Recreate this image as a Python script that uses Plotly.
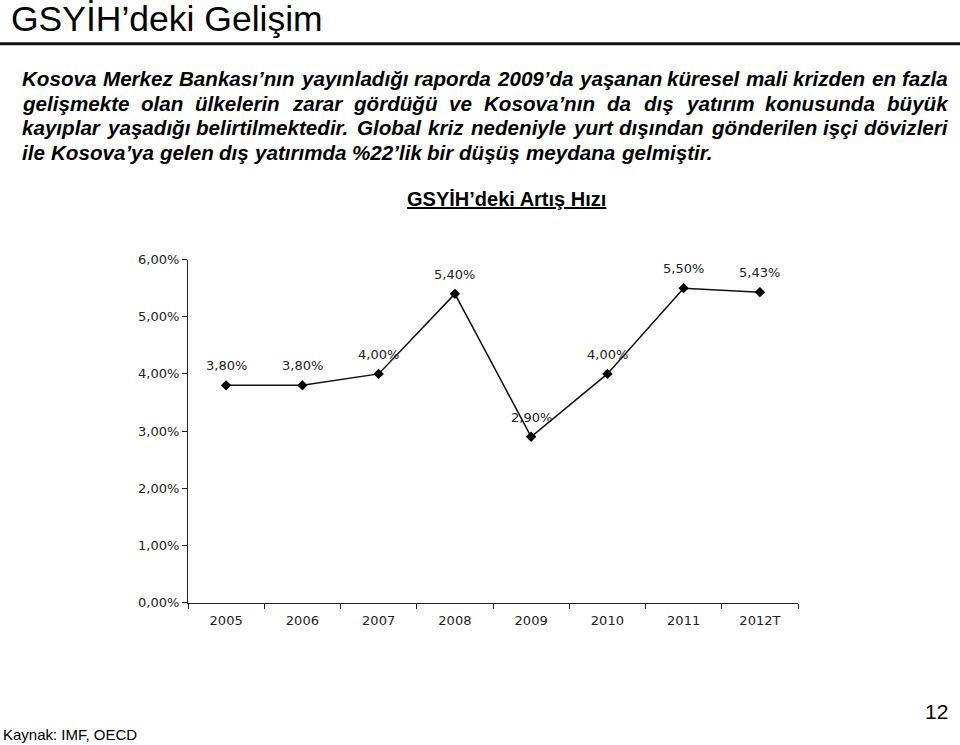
import plotly.graph_objects as go

years = ["2005", "2006", "2007", "2008", "2009", "2010", "2011", "2012T"]
growth = [3.80, 3.80, 4.00, 5.40, 2.90, 4.00, 5.50, 5.43]
labels = ["3,80%", "3,80%", "4,00%", "5,40%", "2,90%", "4,00%", "5,50%", "5,43%"]
ytick_vals = [0, 1, 2, 3, 4, 5, 6]
ytick_text = ["0,00%", "1,00%", "2,00%", "3,00%", "4,00%", "5,00%", "6,00%"]

paragraph_lines = [
    "Kosova Merkez Bankası’nın yayınladığı raporda 2009’da yaşanan küresel mali krizden en fazla",
    "gelişmekte olan ülkelerin zarar gördüğü ve Kosova’nın da dış yatırım konusunda büyük",
    "kayıplar yaşadığı belirtilmektedir. Global kriz nedeniyle yurt dışından gönderilen işçi dövizleri",
    "ile Kosova’ya gelen dış yatırımda %22’lik bir düşüş meydana gelmiştir.",
]

W, H = 960, 745
YA, YB = 5.7, 0.9827  # empirical vertical correction of the captured page


def px(x):
    return x / W


def py(y):
    return 1 - ((y - YA) / YB) / H


# Arial Bold (Italic) advance widths, 1/1000 em, used to justify the paragraph text
AW = {" ": 278, "’": 278, ".": 278, ",": 278, "%": 889}
AW.update({d: 556 for d in "0123456789"})
AW.update(dict(zip("ABCDEFGHIJKLMNOPQRSTUVWXYZ",
                   [722, 722, 722, 722, 667, 611, 778, 722, 278, 556, 722, 611, 833, 722, 778, 667,
                    778, 722, 667, 611, 722, 667, 944, 667, 667, 611])))
AW.update(dict(zip("abcdefghijklmnopqrstuvwxyz",
                   [556, 611, 556, 611, 556, 333, 611, 611, 278, 278, 556, 278, 889, 611, 611, 611,
                    611, 389, 556, 333, 611, 556, 778, 556, 556, 500])))
AW.update({"ı": 278, "ş": 556, "ğ": 611, "ü": 611, "ö": 611, "ç": 556, "İ": 278})


def text_width(s, size):
    return sum(AW.get(c, 556) for c in s) * size / 1000.0


fig = go.Figure()
fig.add_trace(go.Scatter(
    x=list(range(len(years))), y=growth, mode="lines+markers",
    line=dict(color="#111111", width=1.5),
    marker=dict(symbol="diamond", size=8, color="#000000"),
    showlegend=False, hoverinfo="skip",
))

annotations = []
for i, (v, t) in enumerate(zip(growth, labels)):
    annotations.append(dict(x=i, y=v, xref="x", yref="y", text=t, showarrow=False,
                            yshift=19.5, font=dict(family="DejaVu Sans", size=13, color="#222222")))

# Title
annotations.append(dict(x=px(11), y=py(18), xref="paper", yref="paper", xanchor="left", yanchor="middle",
                        text="GSYİH’deki Gelişim", showarrow=False, borderpad=0, borderwidth=0,
                        font=dict(family="Liberation Sans, Arial", size=35.5, color="#000000")))

# Paragraph: justified lines (last line left aligned)
PSIZE = 20.6
pfont = dict(family="Liberation Sans, Arial", size=PSIZE, color="#000000")
X0, X1 = 22, 948
line_y = [77, 102, 127, 152]
for li, (line, yy) in enumerate(zip(paragraph_lines, line_y)):
    words = line.split(" ")
    widths = [text_width(w, PSIZE) for w in words]
    space = text_width(" ", PSIZE)
    if li < len(paragraph_lines) - 1 and len(words) > 1:
        gap = (X1 - X0 - sum(widths)) / (len(words) - 1)
    else:
        gap = space
    x = X0
    for w, wd in zip(words, widths):
        annotations.append(dict(x=px(x), y=py(yy), xref="paper", yref="paper", xanchor="left",
                                yanchor="middle", text="<b><i>" + w + "</i></b>", showarrow=False,
                                borderpad=0, borderwidth=0, font=pfont))
        x += wd + gap

# Chart subtitle
annotations.append(dict(x=px(507), y=py(198), xref="paper", yref="paper", xanchor="center", yanchor="middle",
                        text="<b><u>GSYİH’deki Artış Hızı</u></b>", showarrow=False,
                        font=dict(family="Liberation Sans, Arial", size=20, color="#000000")))

# Footer
annotations.append(dict(x=px(3), y=py(735), xref="paper", yref="paper", xanchor="left", yanchor="middle",
                        text="Kaynak: IMF, OECD", showarrow=False, borderpad=0, borderwidth=0,
                        font=dict(family="Liberation Sans, Arial", size=15, color="#000000")))
annotations.append(dict(x=px(948), y=py(712), xref="paper", yref="paper", xanchor="right", yanchor="middle",
                        text="12", showarrow=False, borderpad=0, borderwidth=0,
                        font=dict(family="Liberation Sans, Arial", size=21, color="#000000")))

fig.update_layout(
    width=W, height=H,
    margin=dict(l=0, r=0, t=0, b=0),
    paper_bgcolor="white", plot_bgcolor="white",
    annotations=annotations,
    shapes=[dict(type="line", xref="paper", yref="paper", x0=0, x1=1, y0=py(42.5), y1=py(42.5),
                 line=dict(color="#111111", width=3))],
    xaxis=dict(domain=[px(188), px(798)], range=[-0.5, 7.5],
               tickvals=list(range(len(years))), ticktext=years,
               showline=True, linecolor="#222222", linewidth=1,
               ticks="", showgrid=False, zeroline=False, ticklabelstandoff=6,
               tickfont=dict(family="DejaVu Sans", size=13, color="#222222")),
    xaxis2=dict(domain=[px(188), px(798)], range=[-0.5, 7.5], anchor="y", overlaying="x",
                tickvals=[i - 0.5 for i in range(len(years) + 1)], showticklabels=False,
                ticks="outside", ticklen=5, tickcolor="#222222",
                showline=False, showgrid=False, zeroline=False),
    yaxis=dict(domain=[py(603), py(259)], range=[0, 6],
               tickvals=ytick_vals, ticktext=ytick_text,
               showline=True, linecolor="#222222", linewidth=1,
               ticks="outside", ticklen=5, tickcolor="#222222",
               showgrid=False, zeroline=False,
               tickfont=dict(family="DejaVu Sans", size=13, color="#222222")),
)
fig.add_trace(go.Scatter(x=[None], y=[None], xaxis="x2", yaxis="y", showlegend=False, hoverinfo="skip"))

fig.write_html("out.html")
